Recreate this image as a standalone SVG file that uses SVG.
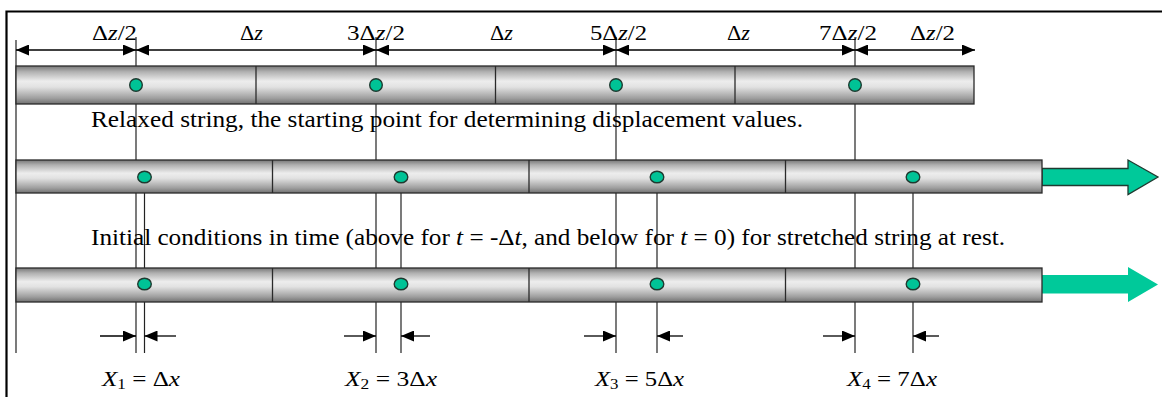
<svg xmlns="http://www.w3.org/2000/svg" width="1162" height="397" viewBox="0 0 1162 397">
<defs>
<linearGradient id="barg" x1="0" y1="0" x2="0" y2="1">
<stop offset="0" stop-color="#777777"/>
<stop offset="0.15" stop-color="#b0b0b0"/>
<stop offset="0.4" stop-color="#ededed"/>
<stop offset="0.55" stop-color="#e2e2e2"/>
<stop offset="0.85" stop-color="#9e9e9e"/>
<stop offset="1" stop-color="#707070"/>
</linearGradient>
<marker id="ah" markerUnits="userSpaceOnUse" viewBox="0 0 13 11" refX="13" refY="5.5" markerWidth="13" markerHeight="11" orient="auto-start-reverse">
<path d="M0,0 L13,5.5 L0,11 z" fill="#000"/>
</marker>
</defs>
<style>
.frame{stroke:#000;stroke-width:2.2;fill:none}
.guide{stroke:#222;stroke-width:1.2;fill:none}
.dim{stroke:#000;stroke-width:1.3;fill:none}
.bar{fill:url(#barg);stroke:#2a2a2a;stroke-width:1.3}
.div{stroke:#2a2a2a;stroke-width:1.3}
.dot{fill:#00C396;stroke:#1f3a30;stroke-width:1.4}
.garrow{fill:#00C99A}
.lbl{font-family:"Liberation Serif","Times New Roman",serif;font-size:22px;fill:#000}
.body{font-family:"Liberation Serif","Times New Roman",serif;font-size:24px;fill:#000}
.it{font-style:italic}
</style>
<g id="frame">
<path class="frame" d="M6.5,397 L6.5,11.5 L1162,11.5"/>
</g>
<g id="guides">
<line class="guide" x1="16" y1="40" x2="16" y2="353"/>
<line class="guide" x1="136" y1="37" x2="136" y2="353"/>
<line class="guide" x1="376" y1="37" x2="376" y2="353"/>
<line class="guide" x1="616" y1="37" x2="616" y2="353"/>
<line class="guide" x1="855" y1="37" x2="855" y2="353"/>
<line class="guide" x1="144.5" y1="177" x2="144.5" y2="353"/>
<line class="guide" x1="401" y1="177" x2="401" y2="353"/>
<line class="guide" x1="657" y1="177" x2="657" y2="353"/>
<line class="guide" x1="913" y1="177" x2="913" y2="353"/>
</g>
<g id="bar-relaxed">
<rect class="bar" x="16" y="66" width="958" height="38"/>
<line class="div" x1="256" y1="66" x2="256" y2="104"/>
<line class="div" x1="495.5" y1="66" x2="495.5" y2="104"/>
<line class="div" x1="735" y1="66" x2="735" y2="104"/>
<circle class="dot" cx="136" cy="85" r="6.3"/>
<circle class="dot" cx="376" cy="85" r="6.3"/>
<circle class="dot" cx="616" cy="85" r="6.3"/>
<circle class="dot" cx="855" cy="85" r="6.3"/>
</g>
<g id="bar-before">
<polygon class="garrow" stroke="#1f3a30" stroke-width="1.3" points="1042,168.5 1128,168.5 1128,160 1158,177 1128,194.5 1128,185.5 1042,185.5"/>
<rect class="bar" x="16" y="160" width="1026" height="33"/>
<line class="div" x1="272.5" y1="160" x2="272.5" y2="193"/>
<line class="div" x1="529" y1="160" x2="529" y2="193"/>
<line class="div" x1="785.5" y1="160" x2="785.5" y2="193"/>
<ellipse class="dot" cx="144.5" cy="177" rx="6.8" ry="5.8"/>
<ellipse class="dot" cx="401" cy="177" rx="6.8" ry="5.8"/>
<ellipse class="dot" cx="657" cy="177" rx="6.8" ry="5.8"/>
<ellipse class="dot" cx="913" cy="177" rx="6.8" ry="5.8"/>
</g>
<g id="bar-after">
<polygon class="garrow" points="1042,275 1128,275 1128,267 1158,284.5 1128,302 1128,293.5 1042,293.5"/>
<rect class="bar" x="16" y="268" width="1026" height="34"/>
<line class="div" x1="272.5" y1="268" x2="272.5" y2="302"/>
<line class="div" x1="529" y1="268" x2="529" y2="302"/>
<line class="div" x1="785.5" y1="268" x2="785.5" y2="302"/>
<ellipse class="dot" cx="144.5" cy="284" rx="6.8" ry="5.8"/>
<ellipse class="dot" cx="401" cy="284" rx="6.8" ry="5.8"/>
<ellipse class="dot" cx="657" cy="284" rx="6.8" ry="5.8"/>
<ellipse class="dot" cx="913" cy="284" rx="6.8" ry="5.8"/>
</g>
<g id="connectors">
<line class="dim" x1="16" y1="50" x2="136" y2="50" marker-start="url(#ah)" marker-end="url(#ah)"/>
<line class="dim" x1="136" y1="50" x2="376" y2="50" marker-start="url(#ah)" marker-end="url(#ah)"/>
<line class="dim" x1="376" y1="50" x2="616" y2="50" marker-start="url(#ah)" marker-end="url(#ah)"/>
<line class="dim" x1="616" y1="50" x2="855" y2="50" marker-start="url(#ah)" marker-end="url(#ah)"/>
<line class="dim" x1="855" y1="50" x2="975" y2="50" marker-start="url(#ah)" marker-end="url(#ah)"/>
<line class="dim" x1="100" y1="336" x2="136" y2="336" marker-end="url(#ah)"/>
<line class="dim" x1="176" y1="336" x2="144.5" y2="336" marker-end="url(#ah)"/>
<line class="dim" x1="344" y1="336" x2="376" y2="336" marker-end="url(#ah)"/>
<line class="dim" x1="430" y1="336" x2="401" y2="336" marker-end="url(#ah)"/>
<line class="dim" x1="584" y1="336" x2="616" y2="336" marker-end="url(#ah)"/>
<line class="dim" x1="683" y1="336" x2="657" y2="336" marker-end="url(#ah)"/>
<line class="dim" x1="823" y1="336" x2="855" y2="336" marker-end="url(#ah)"/>
<line class="dim" x1="939" y1="336" x2="913" y2="336" marker-end="url(#ah)"/>
</g>
<g id="top-labels" class="lbl">
<text x="92" y="40" textLength="45" lengthAdjust="spacingAndGlyphs">Δ<tspan class="it">z</tspan>/2</text>
<text x="240" y="40" textLength="23" lengthAdjust="spacingAndGlyphs">Δ<tspan class="it">z</tspan></text>
<text x="347" y="40" textLength="58" lengthAdjust="spacingAndGlyphs">3Δ<tspan class="it">z</tspan>/2</text>
<text x="490" y="40" textLength="23" lengthAdjust="spacingAndGlyphs">Δ<tspan class="it">z</tspan></text>
<text x="590" y="40" textLength="57" lengthAdjust="spacingAndGlyphs">5Δ<tspan class="it">z</tspan>/2</text>
<text x="727" y="40" textLength="23" lengthAdjust="spacingAndGlyphs">Δ<tspan class="it">z</tspan></text>
<text x="819" y="40" textLength="58" lengthAdjust="spacingAndGlyphs">7Δ<tspan class="it">z</tspan>/2</text>
<text x="910" y="40" textLength="45" lengthAdjust="spacingAndGlyphs">Δ<tspan class="it">z</tspan>/2</text>
</g>
<g id="captions" class="body">
<text x="91" y="127" textLength="712" lengthAdjust="spacingAndGlyphs">Relaxed string, the starting point for determining displacement values.</text>
<text x="91" y="245" textLength="914" lengthAdjust="spacingAndGlyphs">Initial conditions in time (above for <tspan class="it">t</tspan> = -Δ<tspan class="it">t</tspan>, and below for <tspan class="it">t</tspan> = 0) for stretched string at rest.</text>
</g>
<g id="bottom-labels" class="lbl">
<text x="102" y="386" textLength="78" lengthAdjust="spacingAndGlyphs"><tspan class="it">X</tspan><tspan font-size="15" dy="3">1</tspan><tspan dy="-3"> = Δ</tspan><tspan class="it">x</tspan></text>
<text x="345" y="386" textLength="92" lengthAdjust="spacingAndGlyphs"><tspan class="it">X</tspan><tspan font-size="15" dy="3">2</tspan><tspan dy="-3"> = 3Δ</tspan><tspan class="it">x</tspan></text>
<text x="595" y="386" textLength="89" lengthAdjust="spacingAndGlyphs"><tspan class="it">X</tspan><tspan font-size="15" dy="3">3</tspan><tspan dy="-3"> = 5Δ</tspan><tspan class="it">x</tspan></text>
<text x="847" y="386" textLength="90" lengthAdjust="spacingAndGlyphs"><tspan class="it">X</tspan><tspan font-size="15" dy="3">4</tspan><tspan dy="-3"> = 7Δ</tspan><tspan class="it">x</tspan></text>
</g>
</svg>
